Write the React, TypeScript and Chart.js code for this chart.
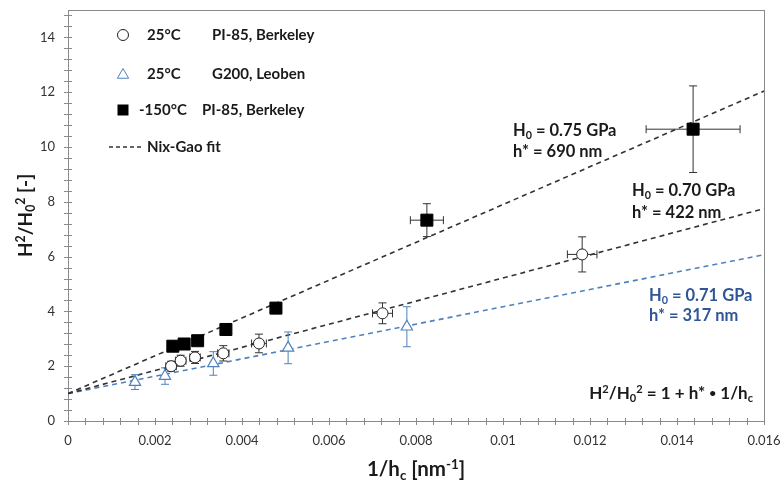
import React, { useEffect, useRef } from 'react';
import { Chart, registerables } from 'chart.js';

Chart.register(...registerables);

// ---- data ----
const circleX = [0.00237, 0.00259, 0.00292, 0.00357, 0.00439, 0.00723, 0.01182];
const circleY = [2.0, 2.2, 2.32, 2.47, 2.83, 3.93, 6.08];
const circleXErr = [0.00012, 0.00012, 0.00012, 0.00013, 0.00017, 0.00023, 0.00034];
const circleYErr = [0.18, 0.2, 0.22, 0.28, 0.34, 0.38, 0.64];

const triX = [0.00154, 0.00223, 0.00334, 0.00506, 0.00779];
const triY = [1.42, 1.64, 2.1, 2.67, 3.44];
const triXErr = [0, 0, 0, 0, 0];
const triYErr = [0.27, 0.3, 0.43, 0.58, 0.73];

const sqX = [0.00241, 0.00267, 0.00298, 0.00363, 0.00478, 0.00825, 0.01437];
const sqY = [2.73, 2.81, 2.93, 3.34, 4.12, 7.33, 10.65];
const sqXErr = [0, 0, 0, 0, 0, 0.00038, 0.00108];
const sqYErr = [0, 0, 0, 0, 0, 0.6, 1.58];

const fitX = [0, 0.016];
const fitUpperY = [1, 12.04]; // h* = 690 nm
const fitMidY = [1, 7.75]; // h* = 422 nm
const fitBlueY = [1, 6.07]; // h* = 317 nm

const xTickValues = [0, 0.002, 0.004, 0.006, 0.008, 0.01, 0.012, 0.014, 0.016];
const yTickValues = [0, 2, 4, 6, 8, 10, 12, 14];

const FONT = 'Lato, "Open Sans", sans-serif';
const BLUE = '#4f81bd';
const BLUE_TEXT = '#2f5597';
const DARK = '#1a1a1a';

type Part = [string, string];

function partSize(k: string, size: number) {
  if (k === 'sub' || k === 'sup') return size * 0.65;
  if (k === 'dot') return size * 0.7;
  return size;
}

function richWidth(ctx: CanvasRenderingContext2D, parts: Part[], size: number) {
  let w = 0;
  for (const [t, k] of parts) {
    ctx.font = `bold ${partSize(k, size)}px ${FONT}`;
    w += ctx.measureText(t).width;
  }
  return w;
}

function drawRich(
  ctx: CanvasRenderingContext2D,
  parts: Part[],
  x: number,
  cy: number,
  size: number,
  color: string,
  align: 'left' | 'center' | 'right' = 'left'
) {
  const w = richWidth(ctx, parts, size);
  let cx = align === 'left' ? x : align === 'center' ? x - w / 2 : x - w;
  const base = cy + size * 0.36;
  ctx.save();
  ctx.fillStyle = color;
  ctx.textAlign = 'left';
  ctx.textBaseline = 'alphabetic';
  for (const [t, k] of parts) {
    ctx.font = `bold ${partSize(k, size)}px ${FONT}`;
    let y = base;
    if (k === 'sup') y = base - size * 0.38;
    if (k === 'sub') y = base + size * 0.18;
    if (k === 'dot') y = base - size * 0.1;
    ctx.fillText(t, cx, y);
    cx += ctx.measureText(t).width;
  }
  ctx.restore();
}

const errorSets: Record<number, { xs: number[]; ys: number[]; xe: number[]; ye: number[]; color: string }> = {
  0: { xs: circleX, ys: circleY, xe: circleXErr, ye: circleYErr, color: '#333333' },
  1: { xs: triX, ys: triY, xe: triXErr, ye: triYErr, color: BLUE },
  2: { xs: sqX, ys: sqY, xe: sqXErr, ye: sqYErr, color: '#333333' },
};

function drawMarker(ctx: CanvasRenderingContext2D, kind: string, x: number, y: number) {
  ctx.save();
  ctx.lineWidth = 1;
  if (kind === 'circle') {
    ctx.beginPath();
    ctx.arc(x, y, 5.5, 0, Math.PI * 2);
    ctx.fillStyle = '#fff';
    ctx.fill();
    ctx.strokeStyle = '#222';
    ctx.stroke();
  } else if (kind === 'triangle') {
    const r = 6.5;
    ctx.beginPath();
    ctx.moveTo(x, y - r);
    ctx.lineTo(x + r * 0.866, y + r * 0.5);
    ctx.lineTo(x - r * 0.866, y + r * 0.5);
    ctx.closePath();
    ctx.fillStyle = '#fff';
    ctx.fill();
    ctx.strokeStyle = BLUE;
    ctx.stroke();
  } else if (kind === 'rect') {
    ctx.fillStyle = '#000';
    ctx.fillRect(x - 5.5, y - 5.5, 11, 11);
  }
  ctx.restore();
}

const overlayPlugin = {
  id: 'overlay',
  beforeDatasetsDraw(chart: any) {
    const { ctx, chartArea: a, scales } = chart;
    const xs = scales.x;
    const ys = scales.y;
    ctx.save();
    ctx.strokeStyle = '#8a8a8a';
    ctx.lineWidth = 1;
    ctx.strokeRect(Math.round(a.left) + 0.5, Math.round(a.top) + 0.5, Math.round(a.right - a.left), Math.round(a.bottom - a.top));
    ctx.beginPath();
    for (let v = 0; v <= 0.016 + 1e-9; v += 0.0004) {
      const px = Math.round(xs.getPixelForValue(v)) + 0.5;
      ctx.moveTo(px, a.bottom - 3);
      ctx.lineTo(px, a.bottom + 4);
    }
    for (let v = 0; v <= 15 + 1e-9; v += 0.4) {
      const py = Math.round(ys.getPixelForValue(v)) + 0.5;
      ctx.moveTo(a.left - 4, py);
      ctx.lineTo(a.left + 4, py);
    }
    ctx.stroke();
    ctx.restore();
  },
  beforeDatasetDraw(chart: any, args: any) {
    const set = errorSets[args.index];
    if (!set) return;
    const { ctx, scales } = chart;
    const xs = scales.x;
    const ys = scales.y;
    ctx.save();
    ctx.strokeStyle = set.color;
    ctx.lineWidth = 1;
    ctx.beginPath();
    for (let i = 0; i < set.xs.length; i++) {
      const px = xs.getPixelForValue(set.xs[i]);
      const py = ys.getPixelForValue(set.ys[i]);
      if (set.ye[i] > 0) {
        const t = ys.getPixelForValue(set.ys[i] + set.ye[i]);
        const b = ys.getPixelForValue(set.ys[i] - set.ye[i]);
        ctx.moveTo(px, t);
        ctx.lineTo(px, b);
        ctx.moveTo(px - 4, t);
        ctx.lineTo(px + 4, t);
        ctx.moveTo(px - 4, b);
        ctx.lineTo(px + 4, b);
      }
      if (set.xe[i] > 0) {
        const l = xs.getPixelForValue(set.xs[i] - set.xe[i]);
        const r = xs.getPixelForValue(set.xs[i] + set.xe[i]);
        ctx.moveTo(l, py);
        ctx.lineTo(r, py);
        ctx.moveTo(l, py - 4);
        ctx.lineTo(l, py + 4);
        ctx.moveTo(r, py - 4);
        ctx.lineTo(r, py + 4);
      }
    }
    ctx.stroke();
    ctx.restore();
  },
  afterDraw(chart: any) {
    const { ctx, chartArea: a } = chart;
    // legend
    drawMarker(ctx, 'circle', 123, 35);
    drawRich(ctx, [['25°C', '']], 147, 35, 15, DARK);
    drawRich(ctx, [['PI-85, Berkeley', '']], 212, 35, 15, DARK);
    drawMarker(ctx, 'triangle', 123, 75);
    drawRich(ctx, [['25°C', '']], 147, 74, 15, DARK);
    drawRich(ctx, [['G200, Leoben', '']], 212, 74, 15, DARK);
    drawMarker(ctx, 'rect', 123, 110);
    drawRich(ctx, [['-150°C', '']], 139, 110, 15, DARK);
    drawRich(ctx, [['PI-85, Berkeley', '']], 202, 110, 15, DARK);
    ctx.save();
    ctx.strokeStyle = '#333';
    ctx.lineWidth = 1.5;
    ctx.setLineDash([4, 3]);
    ctx.beginPath();
    ctx.moveTo(109, 147);
    ctx.lineTo(142, 147);
    ctx.stroke();
    ctx.restore();
    drawRich(ctx, [['Nix-Gao fit', '']], 147, 147, 15, DARK);

    // annotations
    const AS = 16.5;
    drawRich(ctx, [['H', ''], ['0', 'sub'], [' = 0.75 GPa', '']], 513, 130, AS, DARK);
    drawRich(ctx, [['h* = 690 nm', '']], 513, 151, AS, DARK);
    drawRich(ctx, [['H', ''], ['0', 'sub'], [' = 0.70 GPa', '']], 632, 190, AS, DARK);
    drawRich(ctx, [['h* = 422 nm', '']], 632, 212, AS, DARK);
    drawRich(ctx, [['H', ''], ['0', 'sub'], [' = 0.71 GPa', '']], 649, 295, AS, BLUE_TEXT);
    drawRich(ctx, [['h* = 317 nm', '']], 649, 315, AS, BLUE_TEXT);
    drawRich(
      ctx,
      [['H', ''], ['2', 'sup'], ['/H', ''], ['0', 'sub'], ['2', 'sup'], [' = 1 + h* ', ''], ['•', 'dot'], [' 1/h', ''], ['c', 'sub']],
      753,
      393,
      17,
      DARK,
      'right'
    );

    // axis titles
    drawRich(ctx, [['1/h', ''], ['c', 'sub'], [' [nm', ''], ['-1', 'sup'], [']', '']], (a.left + a.right) / 2, 469, 20.5, DARK, 'center');
    ctx.save();
    ctx.translate(25, (a.top + a.bottom) / 2);
    ctx.rotate(-Math.PI / 2);
    drawRich(ctx, [['H', ''], ['2', 'sup'], ['/H', ''], ['0', 'sub'], ['2', 'sup'], [' [-]', '']], 0, 0, 19, DARK, 'center');
    ctx.restore();
  },
};

function pts(xs: number[], ys: number[]) {
  return xs.map((x, i) => ({ x, y: ys[i] }));
}

export default function App() {
  const ref = useRef<HTMLCanvasElement | null>(null);
  useEffect(() => {
    if (!ref.current) return;
    const chart = new Chart(ref.current, {
      type: 'scatter',
      data: {
        datasets: [
          {
            label: '25°C PI-85, Berkeley',
            data: pts(circleX, circleY),
            pointStyle: 'circle',
            pointRadius: 5.5,
            backgroundColor: '#ffffff',
            borderColor: '#222222',
            borderWidth: 1,
            order: 1,
          },
          {
            label: '25°C G200, Leoben',
            data: pts(triX, triY),
            pointStyle: 'triangle',
            pointRadius: 6.5,
            backgroundColor: '#ffffff',
            borderColor: BLUE,
            borderWidth: 1.2,
            order: 2,
          },
          {
            label: '-150°C PI-85, Berkeley',
            data: pts(sqX, sqY),
            pointStyle: 'rect',
            pointRadius: 8.5,
            backgroundColor: '#000000',
            borderColor: '#000000',
            borderWidth: 1,
            order: 0,
          },
          {
            type: 'line',
            label: 'fit 690',
            data: pts(fitX, fitUpperY),
            borderColor: '#333333',
            borderWidth: 1.6,
            borderDash: [5, 4],
            pointRadius: 0,
            fill: false,
            order: 10,
          },
          {
            type: 'line',
            label: 'fit 422',
            data: pts(fitX, fitMidY),
            borderColor: '#333333',
            borderWidth: 1.6,
            borderDash: [5, 4],
            pointRadius: 0,
            fill: false,
            order: 11,
          },
          {
            type: 'line',
            label: 'fit 317',
            data: pts(fitX, fitBlueY),
            borderColor: BLUE,
            borderWidth: 1.6,
            borderDash: [5, 4],
            pointRadius: 0,
            fill: false,
            order: 12,
          },
        ] as any,
      },
      options: {
        animation: false,
        responsive: false,
        maintainAspectRatio: false,
        layout: { padding: { top: 10, right: 20, left: 0, bottom: 0 } },
        plugins: { legend: { display: false }, tooltip: { enabled: false } },
        scales: {
          x: {
            type: 'linear',
            min: 0,
            max: 0.016,
            afterFit: (s: any) => {
              s.height = 65;
              s.paddingLeft = 0;
              s.paddingRight = 0;
            },
            afterBuildTicks: (s: any) => {
              s.ticks = xTickValues.map((v) => ({ value: v }));
            },
            ticks: {
              padding: 12,
              color: '#333',
              font: { family: FONT, size: 13 },
              callback: (v: any) => String(Number(Number(v).toFixed(4))),
            },
            grid: { display: false, drawTicks: false },
            border: { display: false },
          },
          y: {
            type: 'linear',
            min: 0,
            max: 15,
            afterFit: (s: any) => {
              s.width = 68;
              s.paddingTop = 0;
              s.paddingBottom = 0;
            },
            afterBuildTicks: (s: any) => {
              s.ticks = yTickValues.map((v) => ({ value: v }));
            },
            ticks: {
              padding: 13,
              color: '#333',
              font: { family: FONT, size: 13 },
              callback: (v: any) => String(v),
            },
            grid: { display: false, drawTicks: false },
            border: { display: false },
          },
        },
      },
      plugins: [overlayPlugin],
    } as any);
    return () => chart.destroy();
  }, []);
  return (
    <div style={{ position: 'fixed', left: 0, top: 0, width: 784, height: 486, background: '#fff' }}>
      <canvas ref={ref} width={784} height={486} style={{ width: 784, height: 486 }} />
    </div>
  );
}
